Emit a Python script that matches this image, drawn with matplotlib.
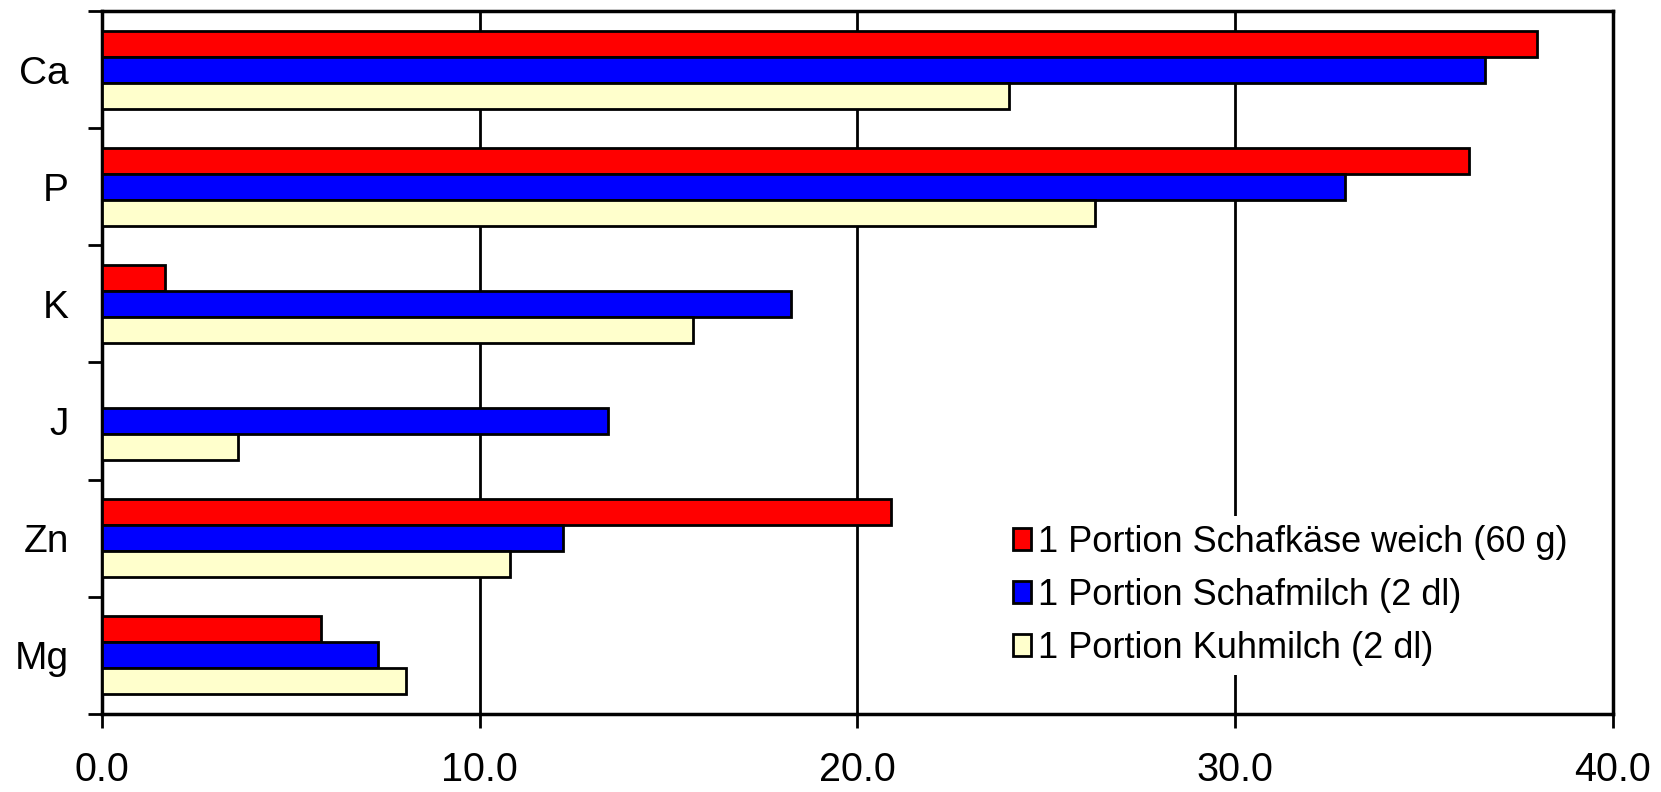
import numpy as np
import matplotlib
matplotlib.use('Agg')
import matplotlib.pyplot as plt
from matplotlib.ticker import FixedLocator

# Mineral content per portion (share of daily requirement, %)
minerals = ["Ca", "P", "K", "J", "Zn", "Mg"]
schafkaese = [38.0, 36.2, 1.67, 0.0, 20.9, 5.8]
schafmilch = [36.6, 32.9, 18.25, 13.4, 12.2, 7.3]
kuhmilch = [24.0, 26.3, 15.65, 3.6, 10.8, 8.05]

series_labels = ["1 Portion Schafkäse weich (60 g)",
                 "1 Portion Schafmilch (2 dl)",
                 "1 Portion Kuhmilch (2 dl)"]
series_colors = ["#FF0000", "#0000FF", "#FFFFCC"]

x_ticks = [0, 10, 20, 30, 40]

plt.rcParams['font.family'] = ['Liberation Sans', 'DejaVu Sans']

fig = plt.figure(figsize=(16.61, 7.92), dpi=100)
ax = fig.add_axes([0.0614, 0.0985, 0.9097, 0.8876])

y = np.arange(len(minerals))
bar_h = 0.222
offsets = [-bar_h, 0.0, bar_h]
for vals, off, col, lab in zip([schafkaese, schafmilch, kuhmilch], offsets,
                               series_colors, series_labels):
    ax.barh(y + off, vals, height=bar_h, color=col, edgecolor='black',
            linewidth=2, label=lab, zorder=3)

ax.set_xlim(0, 40)
ax.set_ylim(len(minerals) - 0.5, -0.5)

ax.set_xticks(x_ticks)
ax.set_xticklabels([f"{v:.1f}" for v in x_ticks])
ax.set_yticks(y)
ax.set_yticklabels(minerals)
ax.yaxis.set_minor_locator(FixedLocator(np.arange(-0.5, len(minerals), 1.0)))

ax.tick_params(axis='y', which='major', length=0, pad=24, labelsize=28)
ax.tick_params(axis='y', which='minor', length=10, width=2, direction='out')
ax.tick_params(axis='x', which='major', length=10, width=2, direction='out',
               pad=17, labelsize=28.5)

ax.grid(axis='x', color='black', linewidth=2, zorder=1)
ax.set_axisbelow(True)
for sp in ax.spines.values():
    sp.set_linewidth(2.5)

leg = ax.legend(loc='center left', bbox_to_anchor=(0.585, 0.169), fontsize=26,
                frameon=True, facecolor='white', edgecolor='none', framealpha=1,
                fancybox=False, handlelength=0.5, handleheight=0.55,
                handletextpad=0.2, labelspacing=0.5, borderpad=0.25)
leg.set_zorder(4)

fig.savefig("out.png", dpi=100)
